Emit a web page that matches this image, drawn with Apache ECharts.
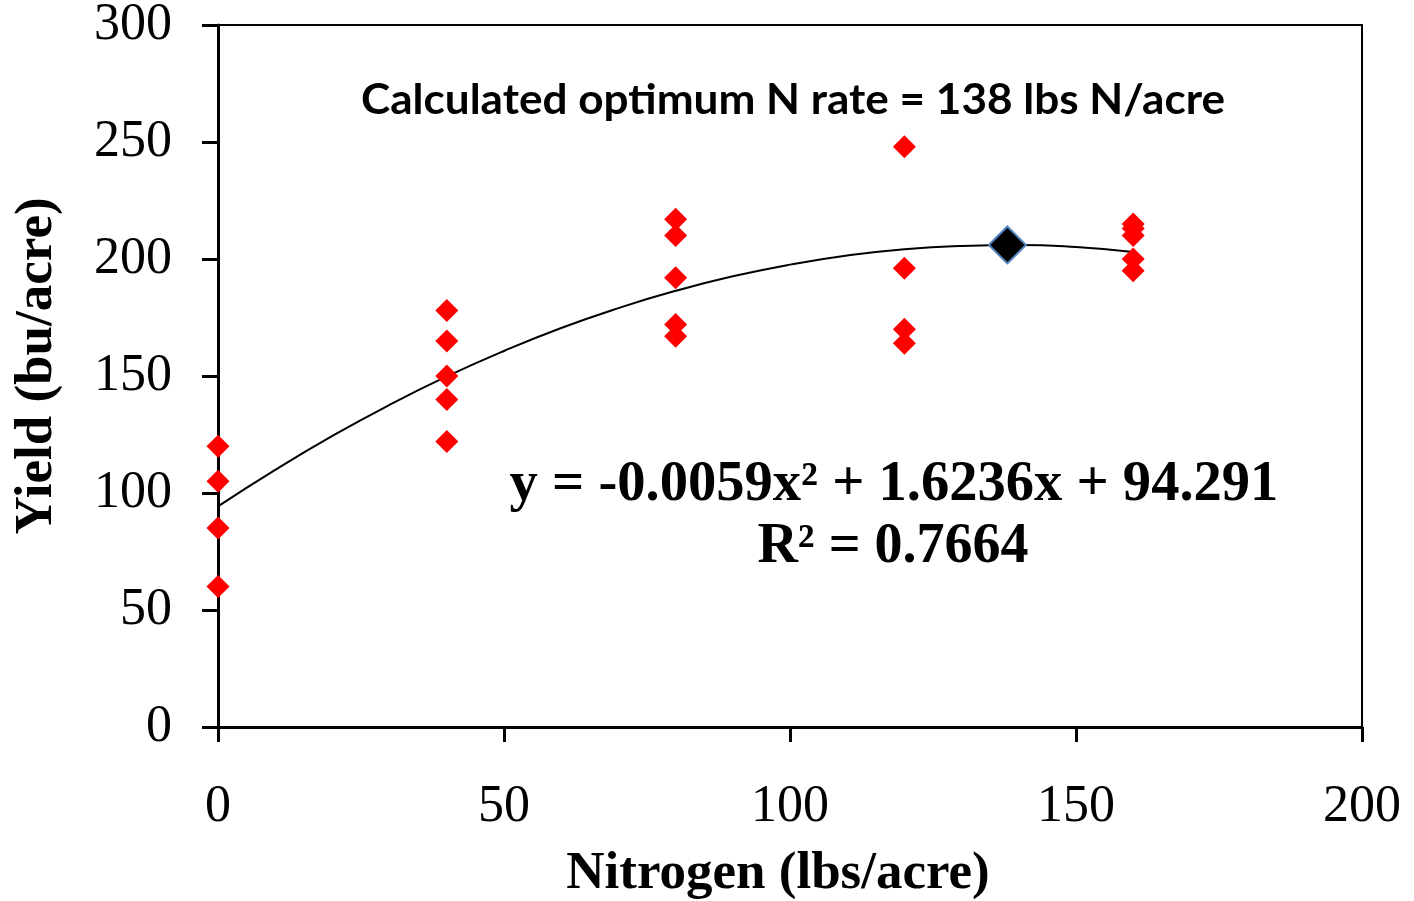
<!DOCTYPE html>
<html>
<head>
<meta charset="utf-8">
<script src="https://cdn.jsdelivr.net/npm/echarts@6/dist/echarts.min.js"></script>
<style>
html,body{margin:0;padding:0;background:#fff;}
#chart{width:1414px;height:901px;}
</style>
</head>
<body>
<div id="chart"></div>
<script>
// Observed data (N rate in lbs/acre, yield in bu/acre)
const nitrogenRates = [0, 0, 0, 0, 40, 40, 40, 40, 40, 80, 80, 80, 80, 80, 120, 120, 120, 120, 160, 160, 160, 160, 160];
const yieldValues   = [120, 105, 85, 60, 178, 165, 150, 140, 122, 217, 210, 192, 172, 167, 248, 196, 170, 164, 215, 213, 210, 200, 195];

// Calculated optimum point
const optimumN = [138];
const optimumYield = [206];

// Quadratic trendline
const trendX = [0, 10, 20, 30, 40, 50, 60, 70, 80, 90, 100, 110, 120, 130, 140, 150, 160];
const trendY = [94.3, 109.9, 124.4, 137.7, 149.8, 160.7, 170.5, 179.0, 186.4, 192.6, 197.6, 201.5, 204.2, 205.6, 206.0, 205.1, 203.0];

// Axis ticks
const xTicks = [0, 50, 100, 150, 200];
const yTicks = [0, 50, 100, 150, 200, 250, 300];

// Text
const titleText = 'Calculated optimum N rate = 138 lbs N/acre';
const equationText = 'y = -0.0059x\u00B2 + 1.6236x + 94.291';
const r2Text = 'R\u00B2 = 0.7664';
const xName = 'Nitrogen (lbs/acre)';
const yName = 'Yield (bu/acre)';

const serif = '"Liberation Serif", "Times New Roman", serif';

const chart = echarts.init(document.getElementById('chart'), null, {renderer: 'canvas'});

const option = {
  animation: false,
  backgroundColor: '#ffffff',
  grid: {
    left: 218, right: 52, top: 25, bottom: 174,
    containLabel: false, outerBoundsMode: 'none',
    show: true, borderColor: '#000', borderWidth: 2, backgroundColor: 'transparent'
  },
  xAxis: {
    type: 'value',
    min: xTicks[0], max: xTicks[xTicks.length - 1], interval: xTicks[1] - xTicks[0],
    name: xName, nameLocation: 'middle', nameGap: 121,
    nameTextStyle: {fontFamily: serif, fontWeight: 'bold', fontSize: 53, color: '#000', padding: [0, 24, 0, 0]},
    axisLine: {show: true, onZero: false, lineStyle: {color: '#000', width: 3}},
    axisTick: {show: true, inside: false, length: 15, lineStyle: {color: '#000', width: 3}},
    axisLabel: {margin: 54, fontFamily: serif, fontSize: 52, color: '#000'},
    splitLine: {show: false}
  },
  yAxis: {
    type: 'value',
    min: yTicks[0], max: yTicks[yTicks.length - 1], interval: yTicks[1] - yTicks[0],
    name: yName, nameLocation: 'middle', nameGap: 154, nameRotate: 90,
    nameTextStyle: {fontFamily: serif, fontWeight: 'bold', fontSize: 53, color: '#000', padding: [0, 0, 0, 20]},
    axisLine: {show: true, onZero: false, lineStyle: {color: '#000', width: 3}},
    axisTick: {show: true, inside: false, length: 16, lineStyle: {color: '#000', width: 3}},
    axisLabel: {margin: 46, fontFamily: serif, fontSize: 52, color: '#000'},
    splitLine: {show: false}
  },
  series: [
    {
      type: 'line',
      data: trendX.map((x, i) => [x, trendY[i]]),
      smooth: true,
      showSymbol: false,
      symbol: 'none',
      lineStyle: {color: '#000', width: 2},
      z: 2
    },
    {
      type: 'scatter',
      data: nitrogenRates.map((x, i) => [x, yieldValues[i]]),
      symbol: 'diamond',
      symbolSize: [23, 23],
      itemStyle: {color: '#ff0000', opacity: 1},
      z: 3
    },
    {
      type: 'scatter',
      data: optimumN.map((x, i) => [x, optimumYield[i]]),
      symbol: 'diamond',
      symbolSize: [37, 37],
      itemStyle: {color: '#000000', borderColor: '#4f81bd', borderWidth: 2, opacity: 1},
      z: 4
    }
  ],
  graphic: [
    {
      type: 'text', x: 793, y: 100, z: 10, scaleX: 1.05,
      style: {text: titleText, fill: '#000', font: 'bold 42px Lato, "Open Sans", sans-serif', align: 'center', verticalAlign: 'middle'}
    },
    {
      type: 'text', x: 894, y: 486, z: 10, scaleX: 1.01,
      style: {text: equationText, fill: '#000', font: 'bold 56px ' + serif, align: 'center', verticalAlign: 'middle'}
    },
    {
      type: 'text', x: 893, y: 548, z: 10,
      style: {text: r2Text, fill: '#000', font: 'bold 56px ' + serif, align: 'center', verticalAlign: 'middle'}
    }
  ]
};
chart.setOption(option);
</script>
</body>
</html>
